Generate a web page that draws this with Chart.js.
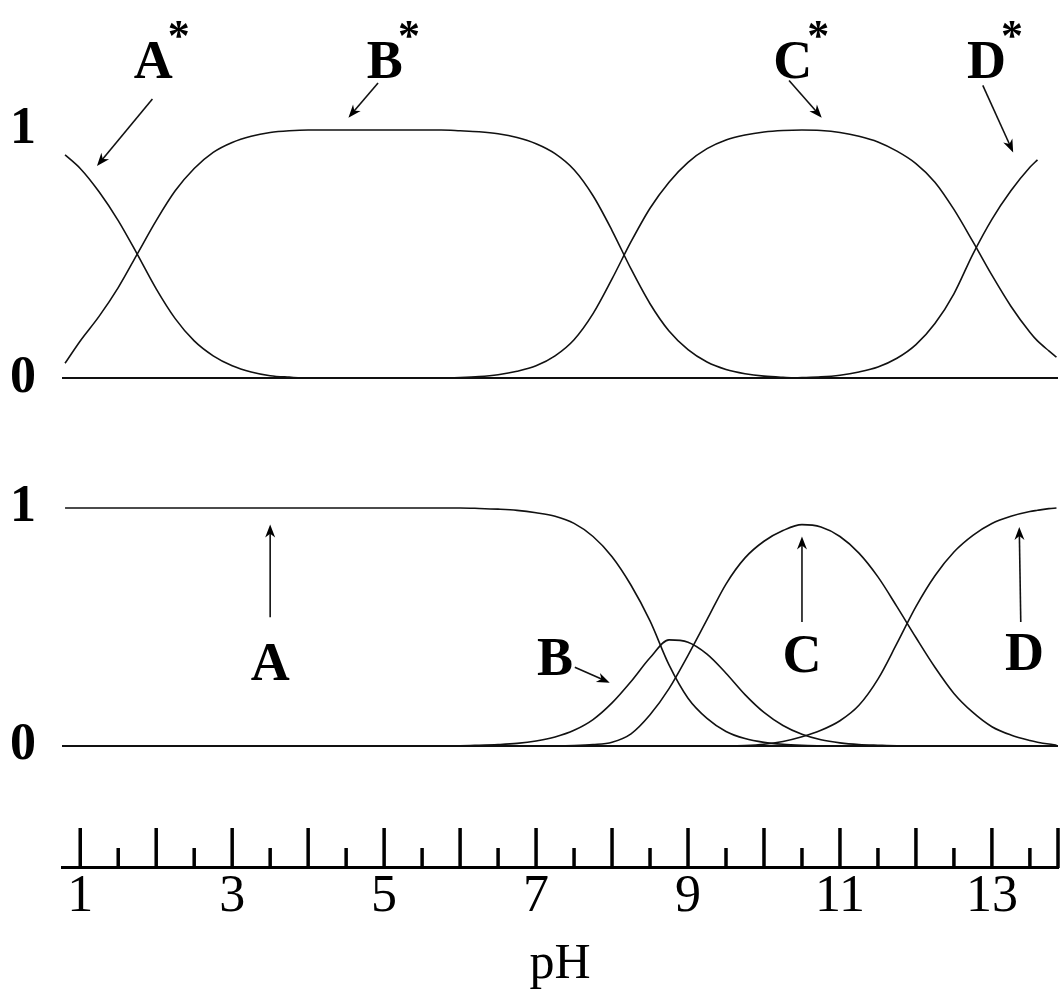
<!DOCTYPE html>
<html>
<head>
<meta charset="utf-8">
<script src="https://cdn.jsdelivr.net/npm/chart.js@4.4.1/dist/chart.umd.min.js"></script>
<style>
  body { margin: 0; background: #fff; }
  canvas { display: block; }
</style>
</head>
<body>
<canvas id="starChart" width="1060" height="420"></canvas>
<canvas id="speciesChart" width="1060" height="570"></canvas>
<script>
// pH grid shared by every curve
const phPoints = [0.8, 1, 1.25, 1.5, 1.75, 2, 2.25, 2.5, 2.75, 3, 3.25, 3.5, 3.75, 4, 4.25, 4.5, 4.75,
  5, 5.25, 5.5, 5.75, 6, 6.25, 6.5, 6.75, 7, 7.25, 7.5, 7.75, 8, 8.25, 8.5, 8.75, 9, 9.25, 9.5, 9.75,
  10, 10.25, 10.5, 10.75, 11, 11.25, 11.5, 11.75, 12, 12.25, 12.5, 12.75, 13, 13.25, 13.5, 13.6, 13.75, 13.85];

// upper panel: A*, B*, C*, D*
const aStar = [0.90, 0.845, 0.75, 0.635, 0.50, 0.36, 0.24, 0.15, 0.09, 0.05, 0.025, 0.01, 0.004, 0, 0, 0, 0,
  0, 0, 0, 0, 0, 0, 0, 0, 0, 0, 0, 0, 0, 0, 0, 0, 0, 0, 0, 0,
  0, 0, 0, 0, 0, 0, 0, 0, 0, 0, 0, 0, 0, 0, 0, 0, 0, 0];
const bStar = [0.06, 0.15, 0.25, 0.365, 0.50, 0.635, 0.755, 0.845, 0.91, 0.95, 0.975, 0.99, 0.997, 1, 1, 1, 1,
  1, 1, 1, 1, 0.997, 0.993, 0.985, 0.97, 0.945, 0.905, 0.84, 0.735, 0.595, 0.44, 0.30, 0.19, 0.115, 0.065, 0.035, 0.018,
  0.008, 0.003, 0, 0, 0, 0, 0, 0, 0, 0, 0, 0, 0, 0, 0, 0, 0, 0];
const cStar = [0, 0, 0, 0, 0, 0, 0, 0, 0, 0, 0, 0, 0, 0, 0, 0, 0,
  0, 0, 0, 0, 0.002, 0.006, 0.014, 0.028, 0.05, 0.09, 0.155, 0.26, 0.40, 0.55, 0.685, 0.79, 0.87, 0.925, 0.96, 0.98,
  0.992, 0.998, 1, 0.998, 0.99, 0.975, 0.952, 0.915, 0.865, 0.79, 0.68, 0.55, 0.415, 0.29, 0.185, 0.15, 0.11, 0.085];
const dStar = [0, 0, 0, 0, 0, 0, 0, 0, 0, 0, 0, 0, 0, 0, 0, 0, 0,
  0, 0, 0, 0, 0, 0, 0, 0, 0, 0, 0, 0, 0, 0, 0, 0, 0, 0, 0, 0,
  0, 0, 0.002, 0.005, 0.012, 0.025, 0.045, 0.08, 0.135, 0.22, 0.34, 0.50, 0.64, 0.755, 0.85, 0.88, null, null];

// lower panel: A, B, C, D
const aPlain = [1, 1, 1, 1, 1, 1, 1, 1, 1, 1, 1, 1, 1, 1, 1, 1, 1,
  1, 1, 1, 1, 1, 0.998, 0.995, 0.99, 0.98, 0.965, 0.935, 0.88, 0.795, 0.675, 0.525, 0.34, 0.20, 0.115, 0.06, 0.03,
  0.014, 0.006, 0.002, 0, 0, 0, 0, 0, 0, 0, 0, 0, 0, 0, 0, 0, 0, 0];
const bPlain = [0, 0, 0, 0, 0, 0, 0, 0, 0, 0, 0, 0, 0, 0, 0, 0, 0,
  0, 0, 0, 0, 0, 0.002, 0.005, 0.01, 0.02, 0.037, 0.065, 0.11, 0.18, 0.27, 0.37, 0.445, 0.435, 0.385, 0.305, 0.215,
  0.14, 0.085, 0.048, 0.025, 0.012, 0.005, 0.002, 0, 0, 0, 0, 0, 0, 0, 0, 0, 0, 0];
const cPlain = [0, 0, 0, 0, 0, 0, 0, 0, 0, 0, 0, 0, 0, 0, 0, 0, 0,
  0, 0, 0, 0, 0, 0, 0, 0, 0, 0, 0.001, 0.005, 0.015, 0.05, 0.13, 0.24, 0.38, 0.53, 0.68, 0.79,
  0.86, 0.905, 0.93, 0.92, 0.88, 0.81, 0.71, 0.585, 0.455, 0.33, 0.22, 0.14, 0.08, 0.045, 0.022, 0.015, 0.007, 0.003];
const dPlain = [0, 0, 0, 0, 0, 0, 0, 0, 0, 0, 0, 0, 0, 0, 0, 0, 0,
  0, 0, 0, 0, 0, 0, 0, 0, 0, 0, 0, 0, 0, 0, 0, 0, 0, 0, 0, 0.001,
  0.006, 0.018, 0.038, 0.065, 0.105, 0.17, 0.28, 0.43, 0.585, 0.715, 0.815, 0.885, 0.935, 0.965, 0.985, 0.99, 0.997, 1];

const fractionTicks = [0, 1];
const phLabelTicks = [1, 3, 5, 7, 9, 11, 13];
const rulerMajor = [1, 2, 3, 4, 5, 6, 7, 8, 9, 10, 11, 12, 13];
const rulerMinor = [1.5, 2.5, 3.5, 4.5, 5.5, 6.5, 7.5, 8.5, 9.5, 10.5, 11.5, 12.5, 13.5];

const PH_MIN = 0.76, PH_MAX = 13.87;
const SERIF = "'Liberation Serif', 'Times New Roman', serif";
const INK = '#111';

// label text, label anchor [pH, fraction], arrow tail and head
const starCallouts = [
  { text: 'A', star: true, at: [1.96, 1.21], tail: [1.95, 1.125], head: [1.22, 0.855] },
  { text: 'B', star: true, at: [5.01, 1.21], tail: [4.92, 1.19], head: [4.53, 1.05] },
  { text: 'C', star: true, at: [10.38, 1.21], tail: [10.33, 1.20], head: [10.76, 1.05] },
  { text: 'D', star: true, at: [12.93, 1.21], tail: [12.88, 1.18], head: [13.28, 0.91] },
];
const plainCallouts = [
  { text: 'A', at: [3.5, 0.277], tail: [3.5, 0.54], head: [3.5, 0.93] },
  { text: 'B', at: [7.25, 0.298], tail: [7.51, 0.33], head: [7.97, 0.265] },
  { text: 'C', at: [10.5, 0.31], tail: [10.5, 0.52], head: [10.5, 0.88] },
  { text: 'D', at: [13.43, 0.32], tail: [13.38, 0.52], head: [13.36, 0.92] },
];

function curve(values) {
  return {
    data: phPoints.map((p, i) => ({ x: p, y: values[i] })),
    borderColor: INK,
    borderWidth: 1.6,
    pointRadius: 0,
    fill: false,
    cubicInterpolationMode: 'monotone',
    spanGaps: false,
  };
}

function drawArrow(ctx, x1, y1, x2, y2) {
  const ang = Math.atan2(y2 - y1, x2 - x1);
  const len = 13, half = 5;
  ctx.beginPath();
  ctx.moveTo(x1, y1);
  ctx.lineTo(x2 - Math.cos(ang) * len * 0.6, y2 - Math.sin(ang) * len * 0.6);
  ctx.stroke();
  ctx.beginPath();
  ctx.moveTo(x2, y2);
  ctx.lineTo(x2 - Math.cos(ang) * len + Math.sin(ang) * half, y2 - Math.sin(ang) * len - Math.cos(ang) * half);
  ctx.lineTo(x2 - Math.cos(ang) * len * 0.7, y2 - Math.sin(ang) * len * 0.7);
  ctx.lineTo(x2 - Math.cos(ang) * len - Math.sin(ang) * half, y2 - Math.sin(ang) * len + Math.cos(ang) * half);
  ctx.closePath();
  ctx.fill();
}

function calloutPlugin(items) {
  return {
    id: 'callouts',
    afterDatasetsDraw(chart) {
      const { ctx, scales: { x, y } } = chart;
      ctx.save();
      ctx.fillStyle = '#000';
      ctx.strokeStyle = INK;
      ctx.lineWidth = 1.6;
      items.forEach(it => {
        const lx = x.getPixelForValue(it.at[0]);
        const ly = y.getPixelForValue(it.at[1]);
        ctx.font = 'bold 54px ' + SERIF;
        ctx.textAlign = 'center';
        ctx.textBaseline = 'alphabetic';
        ctx.fillText(it.text, lx, ly);
        if (it.star) {
          const w = ctx.measureText(it.text).width;
          ctx.font = 'bold 44px ' + SERIF;
          ctx.fillText('*', lx + w / 2 + 6, ly - 28);
        }
        drawArrow(ctx,
          x.getPixelForValue(it.tail[0]), y.getPixelForValue(it.tail[1]),
          x.getPixelForValue(it.head[0]), y.getPixelForValue(it.head[1]));
      });
      ctx.restore();
    }
  };
}

// ruler-style ticks standing up from the pH axis line
const rulerPlugin = {
  id: 'ruler',
  afterDraw(chart) {
    const { ctx, scales: { x } } = chart;
    const base = x.top;
    ctx.save();
    ctx.strokeStyle = '#000';
    ctx.lineWidth = 3.5;
    ctx.lineCap = 'butt';
    const tick = (v, h) => {
      const px = x.getPixelForValue(v);
      ctx.beginPath();
      ctx.moveTo(px, base + 1);
      ctx.lineTo(px, base - h);
      ctx.stroke();
    };
    rulerMajor.forEach(v => tick(v, 39));
    rulerMinor.forEach(v => tick(v, 19));
    tick(PH_MAX, 39);
    ctx.restore();
  }
};

function fractionAxis(min, max) {
  return {
    type: 'linear',
    min: min,
    max: max,
    afterBuildTicks: scale => { scale.ticks = fractionTicks.map(v => ({ value: v })); },
    afterFit: scale => { scale.width = 62; scale.paddingTop = 0; scale.paddingBottom = 0; },
    ticks: {
      color: '#000',
      padding: 26,
      font: { family: SERIF, size: 52, weight: 'bold', lineHeight: 1 },
    },
    grid: {
      drawTicks: false,
      lineWidth: 2,
      color: c => (c.tick && c.tick.value === 0 ? INK : 'rgba(0,0,0,0)'),
    },
    border: { display: false },
  };
}

new Chart(document.getElementById('starChart'), {
  type: 'line',
  data: { datasets: [curve(aStar), curve(bStar), curve(cStar), curve(dStar)] },
  options: {
    responsive: false,
    animation: false,
    events: [],
    layout: { padding: { top: 6, bottom: 22, left: 0, right: 2 } },
    plugins: { legend: { display: false }, tooltip: { enabled: false } },
    scales: {
      x: { type: 'linear', min: PH_MIN, max: PH_MAX, display: false },
      y: fractionAxis(-0.08, 1.5),
    },
  },
  plugins: [calloutPlugin(starCallouts)],
});

new Chart(document.getElementById('speciesChart'), {
  type: 'line',
  data: { datasets: [curve(aPlain), curve(bPlain), curve(cPlain), curve(dPlain)] },
  options: {
    responsive: false,
    animation: false,
    events: [],
    layout: { padding: { top: 19, bottom: 0, left: 0, right: 2 } },
    plugins: { legend: { display: false }, tooltip: { enabled: false } },
    scales: {
      x: {
        type: 'linear',
        min: PH_MIN,
        max: PH_MAX,
        afterBuildTicks: scale => { scale.ticks = phLabelTicks.map(v => ({ value: v })); },
        afterFit: scale => { scale.height = 123; scale.paddingLeft = 0; scale.paddingRight = 0; },
        ticks: {
          color: '#000',
          padding: 4,
          maxRotation: 0,
          autoSkip: false,
          font: { family: SERIF, size: 52, lineHeight: 1 },
        },
        grid: { display: false, drawTicks: false },
        border: { display: true, color: '#000', width: 3 },
        title: {
          display: true,
          text: 'pH',
          color: '#000',
          padding: { top: 0, bottom: 0 },
          font: { family: SERIF, size: 50, lineHeight: 1 },
        },
      },
      y: fractionAxis(-0.51, 1.29),
    },
  },
  plugins: [calloutPlugin(plainCallouts), rulerPlugin],
});
</script>
</body>
</html>
